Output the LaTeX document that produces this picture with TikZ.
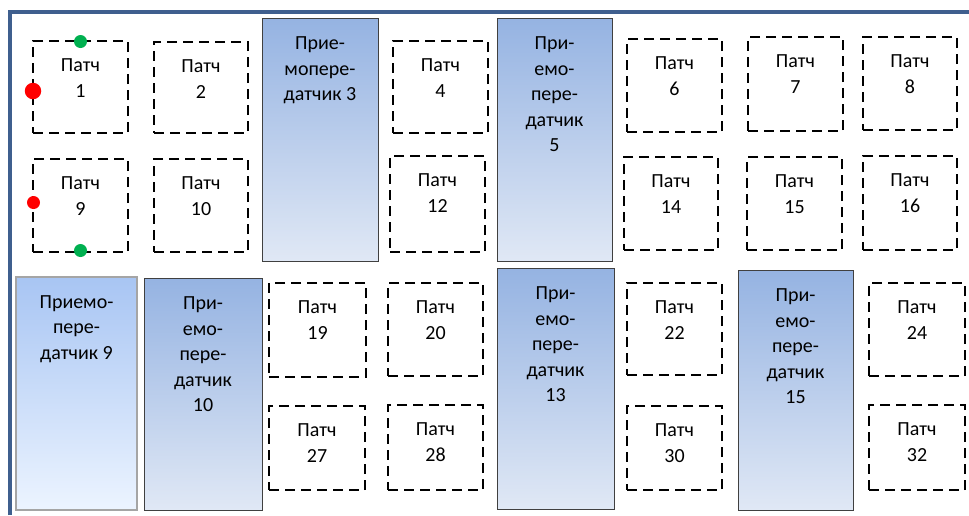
\documentclass[tikz,border=0pt]{standalone}
\usepackage{fontspec}
\setmainfont{Carlito}
\definecolor{framecol}{RGB}{63,95,142}
\definecolor{trxtop}{RGB}{149,179,226}
\definecolor{trxbot}{RGB}{224,232,245}
\definecolor{trxltop}{RGB}{168,197,243}
\definecolor{trxlbot}{RGB}{236,244,255}
\definecolor{trxborder}{RGB}{64,64,64}
\definecolor{trxlborder}{RGB}{165,165,165}
\definecolor{dotred}{RGB}{255,0,0}
\definecolor{dotgreen}{RGB}{0,176,80}
\tikzset{
  patch/.style={draw=black, line width=2.7pt, dash pattern=on 10pt off 6pt, rectangle, inner sep=0pt},
  lbl/.style={font=\fontsize{20}{25.5}\selectfont, align=center, anchor=north, inner sep=0pt},
  trx/.style={draw=trxborder, line width=0.9pt, top color=trxtop, bottom color=trxbot, rectangle, inner sep=0pt},
  trxl/.style={draw=trxlborder, line width=1.6pt, top color=trxltop, bottom color=trxlbot, rectangle, inner sep=0pt},
  dot/.style={circle, inner sep=0pt, draw=none},
  framestyle/.style={draw=framecol, line width=4.2pt}
}
\newcommand\patchbox[6]{%
  \node[patch, minimum width={(#4-#2)*1pt}, minimum height={(#5-#3)*1pt}] (#1) at ({(#2+#4)/2},{(#3+#5)/2}) {};
  \node[lbl] (#1t) at ([yshift=-19pt]#1.north) {Патч\\#6};}
\newcommand\trxbox[7]{%
  \node[#6, minimum width={(#4-#2)*1pt}, minimum height={(#5-#3)*1pt}] (#1) at ({(#2+#4)/2},{(#3+#5)/2}) {};
  \node[lbl] (#1t) at ([yshift=-19pt]#1.north) {#7};}
\begin{document}
\begin{tikzpicture}[x=1pt,y=-1pt]
\useasboundingbox (0,0) rectangle (969,515);
% frame
\coordinate (fa) at (10,515);
\coordinate (fb) at (10,12);
\coordinate (fc) at (969,12);
\draw[framestyle] (fa) -- (fb) -- (fc);
% transceivers
\trxbox{tr3}{262}{18}{378}{261}{trx}{Прие-\\мопере-\\датчик 3}
\trxbox{tr5}{497}{18}{612}{261}{trx}{При-\\емо-\\пере-\\датчик\\5}
\trxbox{tr9}{16}{277}{137}{510}{trxl}{Приемо-\\пере-\\датчик 9}
\trxbox{tr10}{144}{278}{262}{510}{trx}{При-\\емо-\\пере-\\датчик\\10}
\trxbox{tr13}{497}{268}{614}{509}{trx}{При-\\емо-\\пере-\\датчик\\13}
\trxbox{tr15}{738}{270}{853}{510}{trx}{При-\\емо-\\пере-\\датчик\\15}
% patches
\patchbox{p1}{33}{41}{128}{133}{1}
\patchbox{p2}{154}{42}{248}{133}{2}
\patchbox{p9}{33}{159}{128}{252}{9}
\patchbox{p10}{154}{159}{248}{252}{10}
\patchbox{p4}{393}{41}{488}{133}{4}
\patchbox{p12}{390}{156}{485}{252}{12}
\patchbox{p6}{627}{39}{722}{132}{6}
\patchbox{p7}{748}{37}{843}{131}{7}
\patchbox{p8}{863}{37}{957}{130}{8}
\patchbox{p14}{624}{157}{718}{250}{14}
\patchbox{p15}{747}{157}{842}{250}{15}
\patchbox{p16}{863}{156}{957}{250}{16}
\patchbox{p19}{269}{283}{366}{377}{19}
\patchbox{p20}{388}{283}{483}{376}{20}
\patchbox{p27}{269}{406}{365}{490}{27}
\patchbox{p28}{388}{405}{483}{490}{28}
\patchbox{p22}{627}{283}{722}{375}{22}
\patchbox{p30}{627}{406}{722}{490}{30}
\patchbox{p24}{869}{283}{965}{376}{24}
\patchbox{p32}{869}{405}{965}{490}{32}
% dots
\node[dot, fill=dotred, minimum size=16.5pt] (r1) at (33,91) {};
\node[dot, fill=dotred, minimum size=13pt] (r2) at (33.5,202.5) {};
\node[dot, fill=dotgreen, minimum size=13pt] (g1) at (80.5,41.5) {};
\node[dot, fill=dotgreen, minimum size=13pt] (g2) at (80.5,250.5) {};
\end{tikzpicture}
\end{document}
